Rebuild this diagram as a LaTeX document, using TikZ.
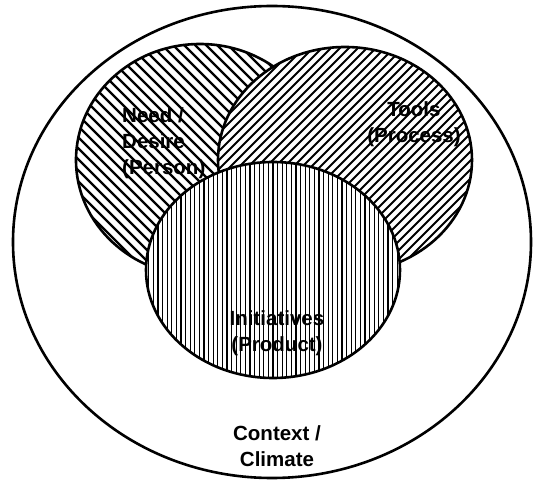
\documentclass[tikz,border=0pt]{standalone}
\usepackage{fontspec}
\setmainfont{Liberation Sans}
\usetikzlibrary{positioning,shapes.geometric}

\begin{document}
\begin{tikzpicture}[
  x=1pt, y=-1pt,
  set/.style={draw, ellipse, line width=2.6pt, inner sep=0pt, fill=white},
  hatchdown/.style={path picture={
    \foreach \k in {-40,...,40}
      \draw[line width=2.3pt] ([xshift=\k*11pt]path picture bounding box.center) ++(-220pt,220pt) -- ++(440pt,-440pt);}},
  hatchup/.style={path picture={
    \foreach \k in {-40,...,40}
      \draw[line width=2pt] ([xshift=\k*9pt]path picture bounding box.center) ++(-220pt,-220pt) -- ++(440pt,440pt);}},
  hatchvert/.style={path picture={
    \foreach \k in {-40,...,40}
      \draw[line width=1.1pt] ([xshift=\k*4.6pt]path picture bounding box.center) ++(0,-150pt) -- ++(0,300pt);}},
  lbl/.style={font=\fontsize{20.5}{26}\selectfont\bfseries, align=center, inner sep=0pt}
]
\useasboundingbox (0,0) rectangle (544,481);

% the surrounding context
\node[set, minimum width=518pt, minimum height=472pt] (context) at (272,242) {};

% three overlapping sets
\node[set, hatchdown, minimum width=248pt, minimum height=232pt] (need) at (200,160) {};
\node[set, hatchup, minimum width=254pt, minimum height=226pt] (tools) at (345,160) {};
\node[set, hatchvert, minimum width=254pt, minimum height=216pt] (init) at (273,270) {};

% labels
\node[lbl, align=left, anchor=west] (needlbl) at (122,143) {Need /\\Desire\\(Person)};
\node[lbl] (toolslbl) at (414,124) {Tools\\(Process)};
\node[lbl] (initlbl) at (277,333) {Initiatives\\(Product)};
\node[lbl] (contextlbl) at (277,446) {Context /\\Climate};
\end{tikzpicture}
\end{document}
